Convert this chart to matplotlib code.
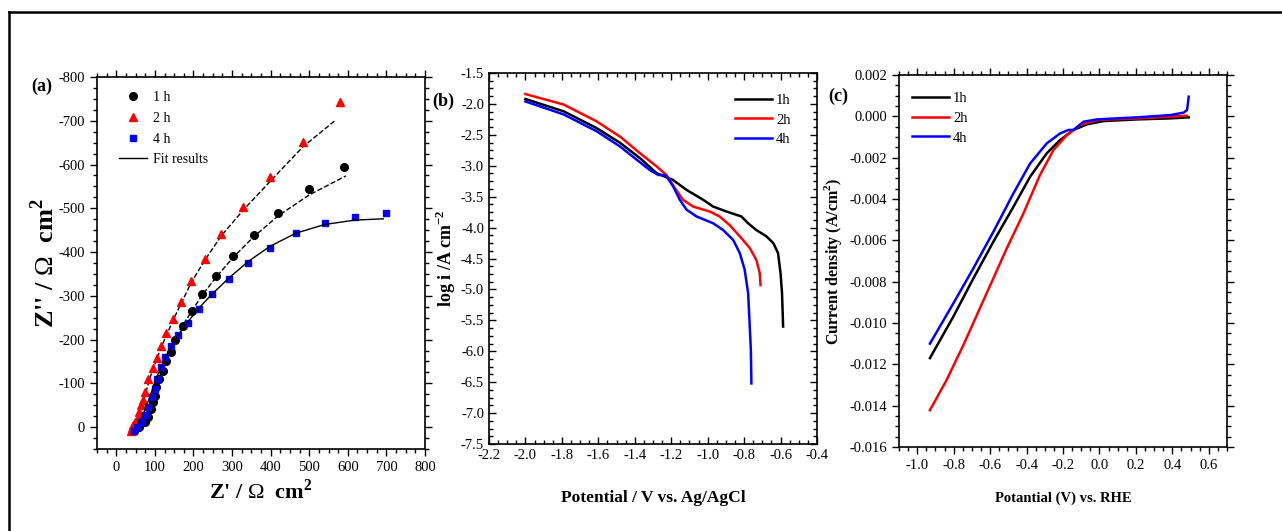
import matplotlib
matplotlib.use("Agg")
import matplotlib.pyplot as plt
from matplotlib.lines import Line2D
from matplotlib.ticker import MultipleLocator, AutoMinorLocator, FormatStrFormatter

plt.rcParams["font.family"] = ["Liberation Serif", "DejaVu Serif"]
plt.rcParams["mathtext.fontset"] = "custom"
plt.rcParams["mathtext.rm"] = "Liberation Serif"
plt.rcParams["mathtext.bf"] = "Liberation Serif:bold"
plt.rcParams["axes.unicode_minus"] = False

# ---- (a) Nyquist data (Z' , -Z'') ----
nyq_1h_x = [47, 60, 73, 82, 89, 95, 99, 104, 111, 120, 129, 141, 153, 172, 196, 223, 259, 303, 356, 420, 499, 590]
nyq_1h_y = [-8, 0, 11, 23, 42, 57, 72, 91, 110, 129, 150, 171, 199, 232, 266, 304, 345, 390, 439, 490, 543, 595]
nyq_2h_x = [37, 40, 44, 49, 55, 60, 65, 69, 73, 82, 96, 106, 116, 129, 147, 167, 194, 229, 272, 328, 397, 483, 580]
nyq_2h_y = [-8, -2, 5, 12, 22, 35, 50, 62, 80, 110, 134, 158, 185, 214, 248, 287, 333, 384, 441, 503, 572, 651, 742]
nyq_4h_x = [47, 54, 65, 73, 82, 92, 99, 106, 115, 127, 142, 160, 185, 213, 247, 291, 341, 398, 465, 540, 618, 698]
nyq_4h_y = [-8, 0, 11, 27, 46, 68, 87, 110, 137, 160, 185, 210, 239, 271, 304, 338, 374, 409, 443, 466, 481, 490]

fit_1h_x = [60, 85, 105, 130, 160, 196, 223, 259, 303, 356, 420, 499, 595]
fit_1h_y = [5, 45, 100, 155, 215, 266, 302, 343, 388, 435, 483, 530, 574]
fit_2h_x = [45, 55, 70, 90, 115, 150, 194, 229, 272, 328, 397, 483, 565]
fit_2h_y = [0, 15, 60, 120, 180, 250, 330, 381, 437, 495, 560, 640, 699]
fit_4h_x = [55, 70, 85, 105, 130, 160, 185, 213, 247, 291, 341, 398, 465, 540, 618, 692]
fit_4h_y = [5, 30, 65, 115, 165, 210, 240, 271, 303, 340, 378, 413, 443, 463, 473, 476]

# ---- (b) polarization curves ----
pol_1h_E = [-2.0, -1.79, -1.61, -1.48, -1.37, -1.28, -1.19, -1.116, -1.025, -0.97, -0.897, -0.815,
            -0.778, -0.733, -0.678, -0.64, -0.614, -0.60, -0.592, -0.586]
pol_1h_logi = [-1.92, -2.12, -2.39, -2.63, -2.88, -3.12, -3.23, -3.39, -3.55, -3.66, -3.74, -3.82,
               -3.93, -4.04, -4.14, -4.25, -4.41, -4.74, -5.06, -5.6]
pol_2h_E = [-2.0, -1.79, -1.61, -1.48, -1.37, -1.28, -1.226, -1.18, -1.135, -1.08, -0.988, -0.934,
            -0.879, -0.824, -0.769, -0.733, -0.714, -0.71]
pol_2h_logi = [-1.84, -2.01, -2.28, -2.53, -2.80, -3.01, -3.15, -3.36, -3.55, -3.66, -3.74, -3.82,
               -3.96, -4.14, -4.33, -4.52, -4.74, -4.93]
pol_4h_E = [-2.0, -1.79, -1.61, -1.48, -1.39, -1.317, -1.27, -1.244, -1.226, -1.19, -1.153, -1.116,
            -1.061, -0.97, -0.915, -0.86, -0.824, -0.797, -0.778, -0.769, -0.763, -0.76]
pol_4h_logi = [-1.96, -2.17, -2.44, -2.69, -2.90, -3.07, -3.15, -3.15, -3.17, -3.33, -3.55, -3.71,
               -3.82, -3.93, -4.04, -4.20, -4.41, -4.68, -5.06, -5.6, -5.98, -6.52]

# ---- (c) LSV curves ----
lsv_1h_E = [-0.93, -0.802, -0.692, -0.582, -0.472, -0.38, -0.289, -0.216, -0.142, -0.069, 0.023, 0.206, 0.389, 0.49]
lsv_1h_j = [-0.0117, -0.0097, -0.00785, -0.00607, -0.00438, -0.00292, -0.00179, -0.00115, -0.00066,
            -0.00039, -0.00023, -0.00015, -0.0001, -0.00005]
lsv_2h_E = [-0.93, -0.839, -0.747, -0.619, -0.509, -0.417, -0.326, -0.252, -0.179, -0.106, -0.014, 0.206, 0.389, 0.48]
lsv_2h_j = [-0.01422, -0.01277, -0.01108, -0.00857, -0.0064, -0.0047, -0.00284, -0.00163, -0.00091,
            -0.00042, -0.00018, -0.0001, -0.00002, 0.00003]
lsv_4h_E = [-0.93, -0.802, -0.692, -0.582, -0.472, -0.38, -0.289, -0.216, -0.17, -0.142, -0.087, -0.014,
            0.206, 0.389, 0.463, 0.481, 0.49]
lsv_4h_j = [-0.011, -0.00906, -0.00736, -0.00559, -0.00373, -0.00228, -0.00131, -0.00083, -0.00066,
            -0.00066, -0.00026, -0.00015, -0.00005, 0.00006, 0.00018, 0.00031, 0.00095]

labels = ["1h", "2h", "4h"]
colors = ["black", "red", "blue"]


def style_axes(ax, direction):
    for s in ax.spines.values():
        s.set_linewidth(1.2)
    ax.tick_params(which="both", direction=direction, labelsize=10.5, width=1.0)
    ax.tick_params(which="major", length=5)
    ax.tick_params(which="minor", length=3)
    ax.xaxis.set_minor_locator(AutoMinorLocator(4))
    ax.yaxis.set_minor_locator(AutoMinorLocator(4))
    ax.tick_params(top=True, right=True, which="both")


fig = plt.figure(figsize=(12.82, 5.31), dpi=100)

# frame lines (top and left of the figure border)
fig.add_artist(Line2D([9 / 1282, 1], [1 - 12 / 531, 1 - 12 / 531], color="black", lw=1.8))
fig.add_artist(Line2D([9 / 1282, 9 / 1282], [0, 1 - 12 / 531], color="black", lw=1.8))

# ---------- (a) ----------
ax1 = fig.add_axes([0.0757, 0.1544, 0.2558, 0.7006])
ax1.plot(fit_2h_x, [-v for v in fit_2h_y], "k--", lw=1.0)
ax1.plot(fit_1h_x, [-v for v in fit_1h_y], "k--", lw=1.0)
ax1.plot(nyq_1h_x, [-v for v in nyq_1h_y], "o", color="black", ms=5.5, label="1 h")
ax1.plot(nyq_2h_x, [-v for v in nyq_2h_y], "^", color="red", ms=5.5, label="2 h")
ax1.plot(nyq_4h_x, [-v for v in nyq_4h_y], "s", color="blue", ms=4.8, label="4 h")
ax1.plot(fit_4h_x, [-v for v in fit_4h_y], "k-", lw=1.0, label="Fit results")
ax1.set_xlim(-50, 800)
ax1.set_ylim(50, -800)
ax1.xaxis.set_major_locator(MultipleLocator(100))
ax1.yaxis.set_major_locator(MultipleLocator(100))
style_axes(ax1, "out")
ax1.set_xlabel(r"Z' / $\Omega$  cm$^\mathbf{2}$", fontsize=16, fontweight="bold", labelpad=4)
ax1.set_ylabel(r"Z'' / $\Omega$  cm$^\mathbf{2}$", fontsize=19, fontweight="bold", labelpad=0)
ax1.legend(loc="upper left", frameon=False, fontsize=10, handlelength=2.0,
           bbox_to_anchor=(0.03, 0.995), labelspacing=0.55, handletextpad=0.4)
fig.text(0.024, 0.828, "(a)", fontsize=13, fontweight="bold")

# ---------- (b) ----------
ax2 = fig.add_axes([0.3814, 0.1638, 0.2559, 0.6987])
for E, li, lab, c in zip([pol_1h_E, pol_2h_E, pol_4h_E], [pol_1h_logi, pol_2h_logi, pol_4h_logi], labels, colors):
    ax2.plot(E, li, color=c, lw=1.8, label=lab)
ax2.set_xlim(-2.2, -0.4)
ax2.set_ylim(-7.5, -1.5)
ax2.xaxis.set_major_locator(MultipleLocator(0.2))
ax2.yaxis.set_major_locator(MultipleLocator(0.5))
ax2.xaxis.set_major_formatter(FormatStrFormatter("%.1f"))
ax2.yaxis.set_major_formatter(FormatStrFormatter("%.1f"))
style_axes(ax2, "in")
ax2.set_xlabel("Potential / V vs. Ag/AgCl", fontsize=12.5, fontweight="bold", labelpad=20)
ax2.set_ylabel(r"log i /A cm$^\mathbf{-2}$", fontsize=13, fontweight="bold", labelpad=2)
ax2.legend(loc="upper right", frameon=False, fontsize=10.5, handlelength=2.5,
           bbox_to_anchor=(0.96, 0.98), labelspacing=0.45, handletextpad=0.3)
fig.text(0.337, 0.80, "(b)", fontsize=13, fontweight="bold")

# ---------- (c) ----------
ax3 = fig.add_axes([0.7012, 0.1582, 0.2559, 0.7006])
for E, j, lab, c in zip([lsv_1h_E, lsv_2h_E, lsv_4h_E], [lsv_1h_j, lsv_2h_j, lsv_4h_j], labels, colors):
    ax3.plot(E, j, color=c, lw=1.8, label=lab)
ax3.set_xlim(-1.1, 0.7)
ax3.set_ylim(-0.016, 0.002)
ax3.xaxis.set_major_locator(MultipleLocator(0.2))
ax3.yaxis.set_major_locator(MultipleLocator(0.002))
ax3.xaxis.set_major_formatter(FormatStrFormatter("%.1f"))
ax3.yaxis.set_major_formatter(FormatStrFormatter("%.3f"))
style_axes(ax3, "out")
ax3.set_xlabel("Potantial (V) vs. RHE", fontsize=10.5, fontweight="bold", labelpad=14)
ax3.set_ylabel(r"Current density (A/cm$^\mathbf{2}$)", fontsize=11.5, fontweight="bold", labelpad=4)
ax3.legend(loc="upper left", frameon=False, fontsize=10.5, handlelength=2.5,
           bbox_to_anchor=(0.0, 0.99), labelspacing=0.45, handletextpad=0.3)
fig.text(0.646, 0.81, "(c)", fontsize=13, fontweight="bold")

fig.savefig("out.png", dpi=100)
